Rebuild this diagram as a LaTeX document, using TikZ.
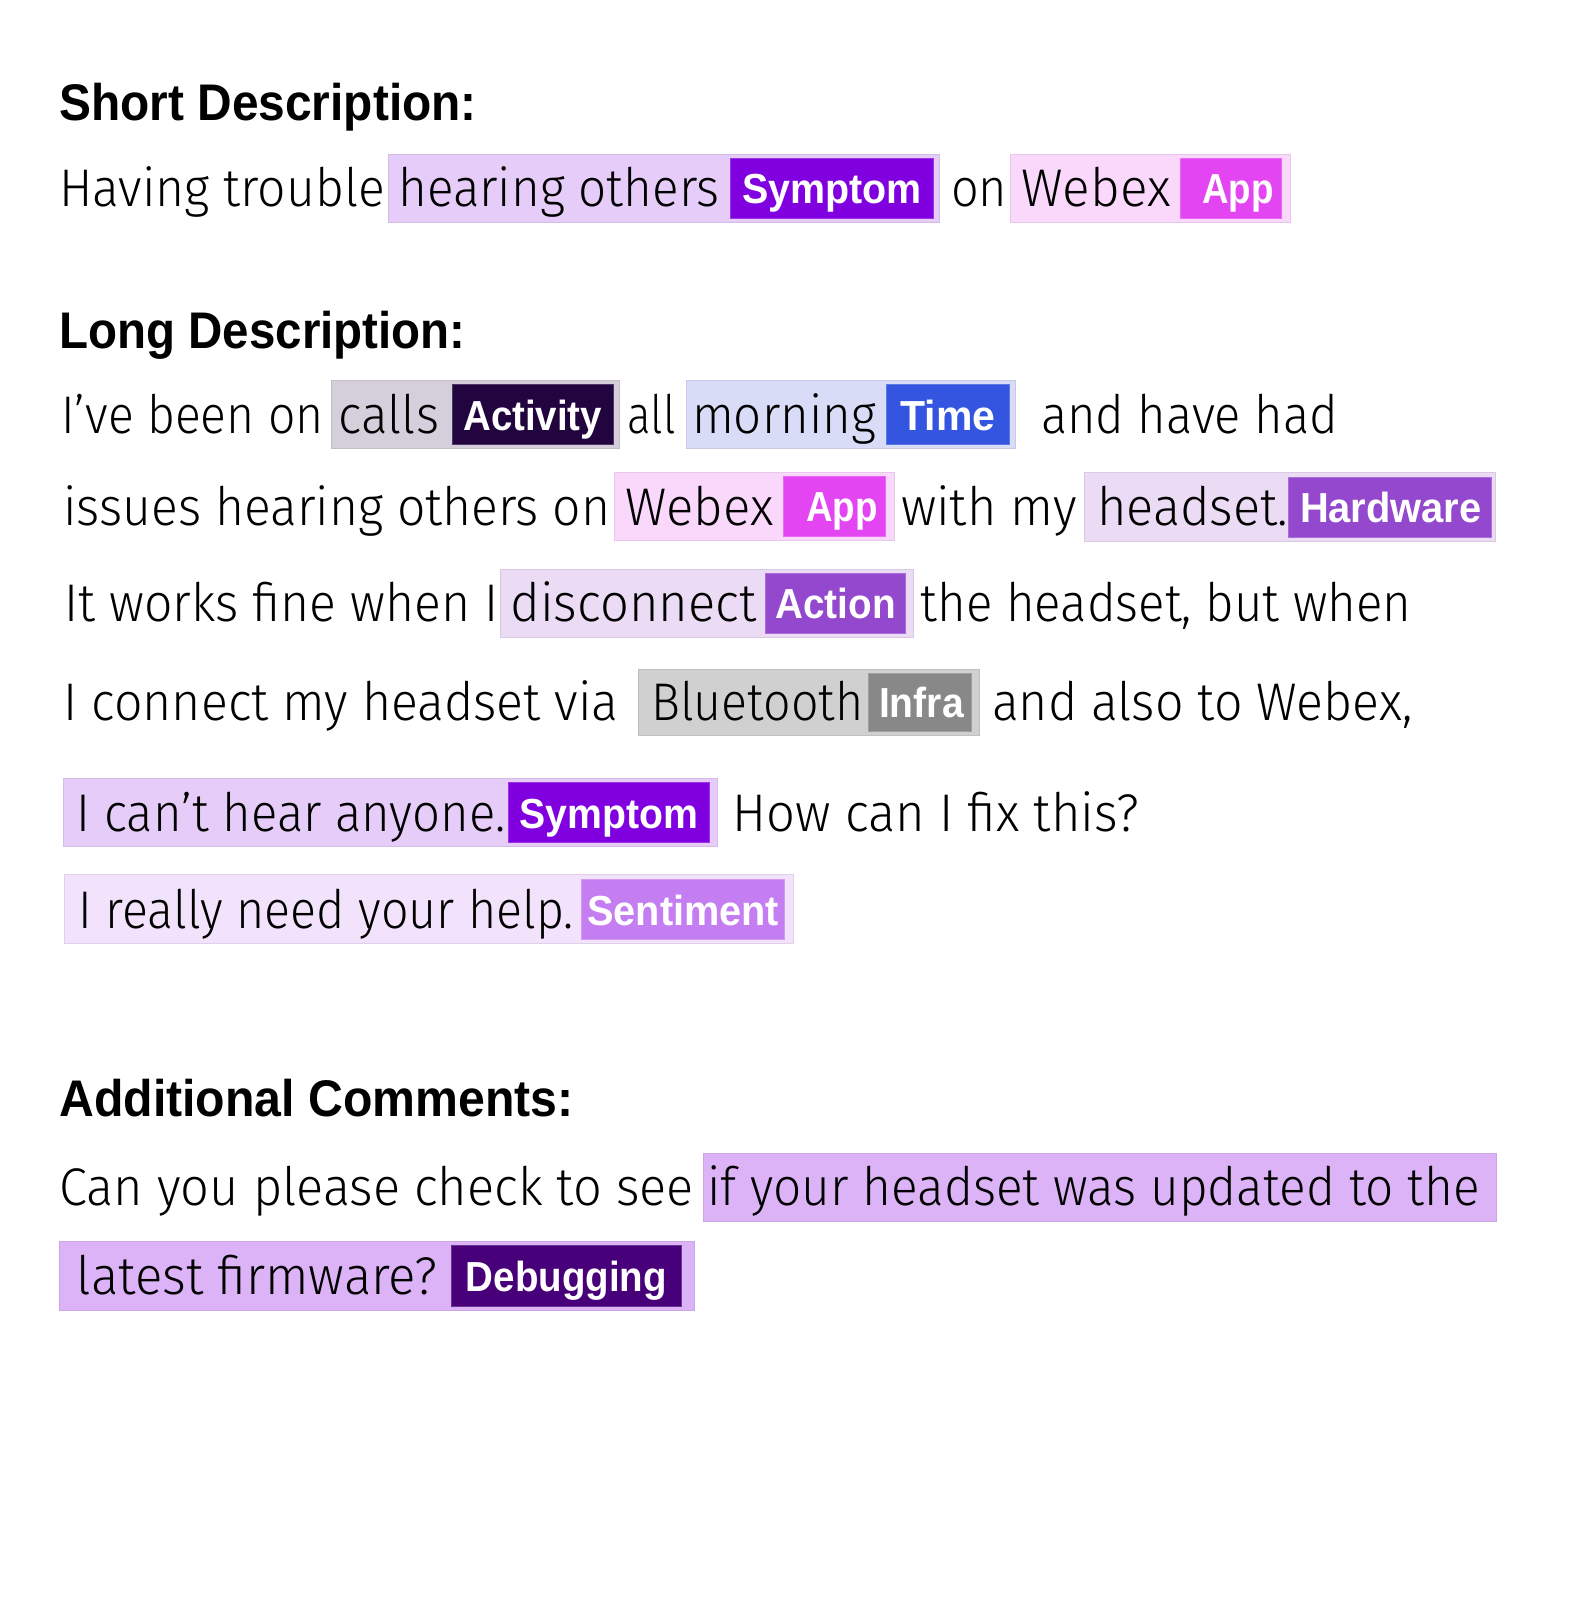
\documentclass[tikz,border=0pt]{standalone}
\usepackage{fontspec}
\usepackage{graphicx}
\IfFontExistsTF{Fira Sans Light}{\setmainfont{Fira Sans Light}}{\setmainfont{Liberation Sans}}
\newfontfamily\boldf{Liberation Sans}
\newdimen\uu \uu=1.0204pt
\newcommand\fw[2]{\resizebox{#1\uu}{\height}{#2}}
\definecolor{symbg}{HTML}{E6CCF8}\definecolor{symtag}{HTML}{8000E0}
\definecolor{appbg}{HTML}{F9D8FC}\definecolor{apptag}{HTML}{E445F3}
\definecolor{actbg}{HTML}{D5CEDB}\definecolor{acttag}{HTML}{22053E}
\definecolor{timebg}{HTML}{D9DCF7}\definecolor{timetag}{HTML}{3355E0}
\definecolor{hwbg}{HTML}{EBDBF5}\definecolor{hwtag}{HTML}{9348CE}
\definecolor{infbg}{HTML}{D0D0D0}\definecolor{inftag}{HTML}{888888}
\definecolor{senbg}{HTML}{F3E2FC}\definecolor{sentag}{HTML}{C57EF2}
\definecolor{dbgbg}{HTML}{DDB3F8}\definecolor{dbgtag}{HTML}{48007A}
\tikzset{
  txt/.style={anchor=base west, inner sep=0pt, font=\fontsize{53}{58}\selectfont},
  hd/.style={anchor=base west, inner sep=0pt, font=\boldf\bfseries\fontsize{51.5}{56}\selectfont},
  tg/.style={anchor=base, inner sep=0pt, text=white, font=\boldf\bfseries\fontsize{42}{46}\selectfont},
  outer/.style={fill=#1, draw=#1!92!black, line width=1pt},
  tagbox/.style={fill=#1, draw=#1!80!white, line width=1pt}
}
\begin{document}
\begin{tikzpicture}[x=1.0204pt,y=-1.0204pt]
\useasboundingbox[fill=white] (0,0) rectangle (1541.6,1568);

% headings
\node[hd] (h1) at (58,118) {\fw{409}{Short Description:}};
\node[hd] (h2) at (58,342) {\fw{398}{Long Description:}};
\node[hd] (h3) at (58,1094) {\fw{504}{Additional Comments:}};

% line 1
\node[txt] (l1a) at (58,202.5) {\fw{319}{Having trouble}};
\path[outer=symbg] (381,151) rectangle (921,218);
\path[tagbox=symtag] (716,155) rectangle (915,214);
\node[txt] (l1b) at (390,202.5) {\fw{315}{hearing others}};
\node[tg] (t1a) at (815.5,199.5) {\fw{176}{Symptom}};
\node[txt] (l1c) at (932,202.5) {\fw{55}{on}};
\path[outer=appbg] (990,151) rectangle (1265,218);
\path[tagbox=apptag] (1157,155) rectangle (1256,214);
\node[txt] (l1d) at (1001,202.5) {\fw{146}{Webex}};
\node[tg] (t1b) at (1213,199.5) {\fw{70}{App}};

% line 2
\node[txt] (l2a) at (60,424.5) {\fw{257}{I’ve been on}};
\path[outer=actbg] (325,373) rectangle (607,440);
\path[tagbox=acttag] (443,377) rectangle (601,436);
\node[txt] (l2b) at (332,424.5) {\fw{98}{calls}};
\node[tg] (t2a) at (522,421.5) {\fw{136}{Activity}};
\node[txt] (l2c) at (615,424.5) {\fw{47}{all}};
\path[outer=timebg] (673,373) rectangle (995,440);
\path[tagbox=timetag] (869,377) rectangle (989,436);
\node[txt] (l2d) at (678,424.5) {\fw{180}{morning}};
\node[tg] (t2b) at (929,421.5) {\fw{93}{Time}};
\node[txt] (l2e) at (1020,424.5) {\fw{291}{and have had}};

% line 3
\node[txt] (l3a) at (62,514.5) {\fw{536}{issues hearing others on}};
\path[outer=appbg] (602,463) rectangle (877,530);
\path[tagbox=apptag] (768,467) rectangle (868,526);
\node[txt] (l3b) at (613,514.5) {\fw{145}{Webex}};
\node[tg] (t3a) at (825,511.5) {\fw{70}{App}};
\node[txt] (l3c) at (883,514.5) {\fw{172}{with my}};
\path[outer=hwbg] (1063,463) rectangle (1466,531);
\path[tagbox=hwtag] (1263,468) rectangle (1462,527);
\node[txt] (l3d) at (1075,515) {\fw{187}{headset.}};
\node[tg] (t3b) at (1363,512.5) {\fw{178}{Hardware}};

% line 4
\node[txt] (l4a) at (63,609.5) {\fw{425}{It works fine when I}};
\path[outer=hwbg] (490,558) rectangle (895,625);
\path[tagbox=hwtag] (750,562) rectangle (887,621);
\node[txt] (l4b) at (500,609.5) {\fw{241}{disconnect}};
\node[tg] (t4a) at (819,606.5) {\fw{118}{Action}};
\node[txt] (l4c) at (902,609.5) {\fw{481}{the headset, but when}};

% line 5
\node[txt] (l5a) at (62,706) {\fw{544}{I connect my headset via}};
\path[outer=infbg] (626,656) rectangle (960,721);
\path[tagbox=inftag] (851,660) rectangle (952,717);
\node[txt] (l5b) at (638,706) {\fw{208}{Bluetooth}};
\node[tg] (t5a) at (903,703.5) {\fw{83}{Infra}};
\node[txt] (l5c) at (972,706) {\fw{412}{and also to Webex,}};

% line 6
\path[outer=symbg] (62,763) rectangle (703,830);
\path[tagbox=symtag] (498,767) rectangle (695,826);
\node[txt] (l6a) at (75,814.5) {\fw{420}{I can’t hear anyone.}};
\node[tg] (t6a) at (596.5,811.5) {\fw{175}{Symptom}};
\node[txt] (l6b) at (718,814.5) {\fw{398}{How can I fix this?}};

% line 7
\path[outer=senbg] (63,857) rectangle (778,925);
\path[tagbox=sentag] (570,862) rectangle (769,921);
\node[txt] (l7a) at (77,909.5) {\fw{485}{I really need your help.}};
\node[tg] (t7a) at (669.5,906.5) {\fw{188}{Sentiment}};

% line 8
\node[txt] (l8a) at (58,1181.5) {\fw{622}{Can you please check to see}};
\path[outer=dbgbg] (689,1130) rectangle (1467,1197);
\node[txt] (l8b) at (693,1181.5) {\fw{757}{if your headset was updated to the}};

% line 9
\path[outer=dbgbg] (58,1217) rectangle (681,1284);
\path[tagbox=dbgtag] (442,1221) rectangle (668,1280);
\node[txt] (l9a) at (75,1268.5) {\fw{353}{latest firmware?}};
\node[tg] (t9a) at (555,1265.5) {\fw{197}{Debugging}};
\end{tikzpicture}
\end{document}
